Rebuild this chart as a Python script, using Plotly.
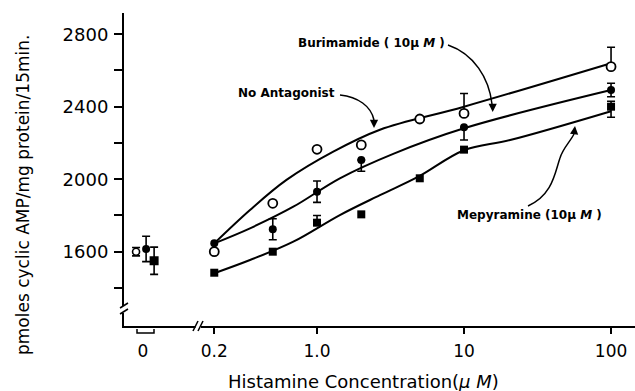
import plotly.graph_objects as go

# ---------------- data ----------------
conc_buri = [0.2, 0.5, 1.0, 2.0, 5.0, 10.0, 100.0]
val_buri = [1600, 1867, 2165, 2189, 2332, 2363, 2621]
err_buri_plus = [0, 0, 0, 0, 0, 110, 107]
err_buri_minus = [0, 0, 0, 0, 0, 0, 0]

conc_none = [0.2, 0.5, 1.0, 2.0, 10.0, 100.0]
val_none = [1646, 1724, 1931, 2106, 2286, 2492]
err_none_plus = [0, 58, 59, 0, 0, 37]
err_none_minus = [0, 58, 59, 62, 70, 37]

conc_mepy = [0.2, 0.5, 1.0, 2.0, 5.0, 10.0, 100.0]
val_mepy = [1484, 1600, 1760, 1806, 2005, 2163, 2400]
err_mepy_plus = [0, 0, 40, 0, 0, 0, 30]
err_mepy_minus = [0, 0, 0, 0, 0, 0, 58]

# controls (no histamine, plotted at "0")
ctrl_vals = [1600, 1615, 1550]
ctrl_errs = [23, 70, 75]

# fitted curves
curve_top_x = [0.2, 0.35, 0.62, 1.29, 2.68, 10, 100]
curve_top_y = [1646, 1830, 1996, 2152, 2273, 2400, 2640]
curve_mid_x = [0.2, 0.35, 0.69, 1.43, 3.3, 10, 100]
curve_mid_y = [1646, 1729, 1848, 2005, 2140, 2281, 2492]
curve_bot_x = [0.2, 0.35, 0.69, 1.43, 2.68, 4.89, 10, 20.6, 100]
curve_bot_y = [1481, 1554, 1655, 1802, 1912, 2014, 2160, 2216, 2375]

x_tick_vals = [0.2, 1.0, 10.0, 100.0]
x_tick_text = ["0.2", "1.0", "10", "100"]
y_major = [1600, 2000, 2400, 2800]
y_minor = [1400, 1800, 2200, 2600]

# ---------------- layout constants ----------------
W, H = 635, 391
L, R, T, B = 124, 0, 13, 65
ZERO_POS = 0.0655           # where the "0" group sits on the log axis
ZERO_OFFS = [0.897, 1.05, 1.19]
FONT = "DejaVu Sans"

def px(x):
    return (x - L) / (W - L - R)

def py(y):
    return (H - B - y) / (H - B - T)

fig = go.Figure()

for cx, cy in [(curve_top_x, curve_top_y), (curve_mid_x, curve_mid_y), (curve_bot_x, curve_bot_y)]:
    fig.add_trace(go.Scatter(x=cx, y=cy, mode="lines",
                             line=dict(color="black", width=2, shape="spline", smoothing=1.0),
                             hoverinfo="skip", showlegend=False))

def err(plus, minus):
    return dict(type="data", array=plus, arrayminus=minus, symmetric=False,
                color="black", thickness=1.6, width=4)

invisible = dict(size=2, color="rgba(0,0,0,0)")
for cx, cy, ep, em in [(conc_buri, val_buri, err_buri_plus, err_buri_minus),
                       (conc_none, val_none, err_none_plus, err_none_minus),
                       (conc_mepy, val_mepy, err_mepy_plus, err_mepy_minus)]:
    keep = [i for i in range(len(cx)) if ep[i] or em[i]]
    fig.add_trace(go.Scatter(x=[cx[i] for i in keep], y=[cy[i] for i in keep], mode="markers",
                             marker=invisible, error_y=err([ep[i] for i in keep], [em[i] for i in keep]),
                             hoverinfo="skip", showlegend=False))
ctrl_x = [ZERO_POS * o for o in ZERO_OFFS]
fig.add_trace(go.Scatter(x=ctrl_x, y=ctrl_vals, mode="markers", marker=invisible,
                         error_y=dict(type="data", array=ctrl_errs, color="black", thickness=1.6, width=4),
                         hoverinfo="skip", showlegend=False))

open_marker = dict(symbol="circle", size=9, color="white", line=dict(width=1.8, color="black"))
fill_marker = dict(symbol="circle", size=8, color="black")
sq_marker = dict(symbol="square", size=8, color="black")
fig.add_trace(go.Scatter(x=conc_buri, y=val_buri, mode="markers", marker=open_marker, showlegend=False))
fig.add_trace(go.Scatter(x=conc_none, y=val_none, mode="markers", marker=fill_marker, showlegend=False))
fig.add_trace(go.Scatter(x=conc_mepy, y=val_mepy, mode="markers", marker=sq_marker, showlegend=False))

ctrl_syms = [dict(symbol="circle", size=7, color="white", line=dict(width=1.6, color="black")),
             fill_marker, dict(symbol="square", size=9, color="black")]
for i in range(3):
    fig.add_trace(go.Scatter(x=[ctrl_x[i]], y=[ctrl_vals[i]], mode="markers",
                             marker=ctrl_syms[i], showlegend=False))

fig.update_xaxes(type="log", range=[-1.313, 2.163],
                 tickvals=[ZERO_POS] + x_tick_vals, ticktext=["0"] + x_tick_text,
                 ticks="", showgrid=False, zeroline=False,
                 showline=True, linecolor="black", linewidth=2,
                 minor=dict(tickvals=x_tick_vals, ticks="outside", ticklen=6, tickwidth=2,
                            tickcolor="black", showgrid=False),
                 tickfont=dict(family=FONT, size=17, color="black"), ticklabelstandoff=9)
fig.update_yaxes(range=[1190, 2917],
                 tickvals=y_major, ticktext=[str(v) for v in y_major],
                 ticks="outside", ticklen=8, tickwidth=2, tickcolor="black",
                 minor=dict(tickvals=y_minor, ticks="outside", ticklen=8, tickwidth=2,
                            tickcolor="black", showgrid=False),
                 showgrid=False, zeroline=False,
                 showline=True, linecolor="black", linewidth=2,
                 tickfont=dict(family=FONT, size=18, color="black"), ticklabelstandoff=2)

shapes = []
# axis breaks
shapes.append(dict(type="rect", xref="paper", yref="paper", x0=px(195.5), x1=px(201), y0=py(323), y1=py(329),
                   fillcolor="white", line=dict(width=0)))
for x0 in [193, 198]:
    shapes.append(dict(type="line", xref="paper", yref="paper", x0=px(x0), y0=py(331), x1=px(x0 + 5), y1=py(321),
                       line=dict(color="black", width=1.5)))
shapes.append(dict(type="rect", xref="paper", yref="paper", x0=px(121), x1=px(127), y0=py(313), y1=py(306),
                   fillcolor="white", line=dict(width=0)))
for y0 in [306, 312]:
    shapes.append(dict(type="line", xref="paper", yref="paper", x0=px(120), y0=py(y0 + 2), x1=px(128), y1=py(y0 - 3),
                       line=dict(color="black", width=1.5)))
# bracket under "0"
shapes.append(dict(type="path", xref="paper", yref="paper",
                   path=f"M{px(137)},{py(329)} L{px(137)},{py(333)} L{px(154)},{py(333)} L{px(154)},{py(329)}",
                   line=dict(color="black", width=1.5)))

def cpath(pts):
    (x0, y0), (x1, y1), (x2, y2), (x3, y3) = pts
    return f"M{px(x0)},{py(y0)} C{px(x1)},{py(y1)} {px(x2)},{py(y2)} {px(x3)},{py(y3)}"

for pts in [[(448, 45), (474, 54), (489, 78), (492, 104)],
            [(340, 95), (358, 97), (371, 106), (374, 120)],
            [(528, 206), (553, 195), (555, 172), (560, 158)],
            [(560, 158), (563, 148), (570, 142), (574, 134)]]:
    shapes.append(dict(type="path", xref="paper", yref="paper", path=cpath(pts),
                       line=dict(color="black", width=1.5)))

annotations = []
lab_font = dict(family=FONT, size=12, color="black")
annotations.append(dict(xref="paper", yref="paper", x=px(296), y=py(43), xanchor="left", yanchor="middle",
                        text="<b>Burimamide ( 10μ <i>M</i> )</b>", showarrow=False, font=lab_font))
annotations.append(dict(xref="paper", yref="paper", x=px(236), y=py(93), xanchor="left", yanchor="middle",
                        text="<b>No Antagonist</b>", showarrow=False, font=lab_font))
annotations.append(dict(xref="paper", yref="paper", x=px(455), y=py(215), xanchor="left", yanchor="middle",
                        text="<b>Mepyramine (10μ <i>M</i> )</b>", showarrow=False, font=lab_font))
for tip, off in [((492.7, 112), (0, -9)), ((374, 128), (0, -9)), ((575, 126), (-1, 9))]:
    annotations.append(dict(xref="paper", yref="paper", x=px(tip[0]), y=py(tip[1]), ax=off[0], ay=off[1],
                            text="", showarrow=True, arrowhead=2, arrowsize=1.1, arrowwidth=1.5,
                            arrowcolor="black"))
# axis titles
annotations.append(dict(xref="paper", yref="paper", x=px(363), y=py(381), xanchor="center", yanchor="middle",
                        text="Histamine Concentration(<i>μ M</i>)", showarrow=False,
                        font=dict(family=FONT, size=18, color="black")))
annotations.append(dict(xref="paper", yref="paper", x=px(23), y=py(195), xanchor="center", yanchor="middle",
                        textangle=-90, text="pmoles cyclic AMP/mg protein/15min.", showarrow=False,
                        font=dict(family=FONT, size=17, color="black")))

fig.update_layout(width=W, height=H, margin=dict(l=L, r=R, t=T, b=B),
                  plot_bgcolor="white", paper_bgcolor="white",
                  shapes=shapes, annotations=annotations, showlegend=False)

fig.write_html("out.html")
